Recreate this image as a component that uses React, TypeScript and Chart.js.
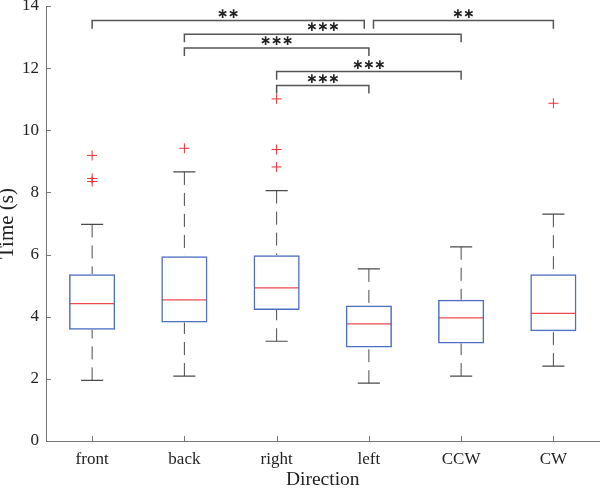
import React, { useEffect, useRef } from 'react';
import Chart from 'chart.js/auto';

const categories = ['front', 'back', 'right', 'left', 'CCW', 'CW'];
const q1 = [3.58, 3.81, 4.22, 3.01, 3.14, 3.53];
const medians = [4.42, 4.54, 4.93, 3.77, 3.96, 4.11];
const q3 = [5.37, 5.95, 5.98, 4.36, 4.55, 5.37];
const whiskerLow = [1.95, 2.09, 3.21, 1.86, 2.09, 2.41];
const whiskerHigh = [6.97, 8.66, 8.06, 5.54, 6.25, 7.3];
const outliers = [[9.19, 8.45, 8.35], [9.42], [11.01, 9.38, 8.82], [], [], [10.87]];
const yTicks = [0, 2, 4, 6, 8, 10, 12, 14];

const bracketFrom = [1, 4.05, 2, 2, 3, 3];
const bracketTo = [3.95, 6, 5, 4, 5, 4];
const bracketY = [13.53, 13.53, 13.09, 12.65, 11.89, 11.44];
const bracketLabels = ['∗∗', '∗∗', '∗∗∗', '∗∗∗', '∗∗∗', '∗∗∗'];

const SERIF = '"Liberation Serif", "Times New Roman", serif';
const MED_HALF = 0.245;
const CAP_HALF = 0.12;
const DROP = 0.26;

const annotPlugin = {
  id: 'annot',
  afterDatasetsDraw(chart: any) {
    const { ctx, chartArea } = chart;
    const x = chart.scales.x;
    const y = chart.scales.y;
    ctx.save();
    ctx.fillStyle = '#222';
    ctx.font = 'bold 14px "DejaVu Sans"';
    ctx.textAlign = 'center';
    ctx.textBaseline = 'middle';
    bracketLabels.forEach((lab, i) => {
      const cx = (x.getPixelForValue(bracketFrom[i]) + x.getPixelForValue(bracketTo[i])) / 2;
      const cy = y.getPixelForValue(bracketY[i]) - 6.5;
      const chars = Array.from(lab);
      chars.forEach((ch, k) => ctx.fillText(ch, cx + (k - (chars.length - 1) / 2) * 11, cy));
    });
    ctx.strokeStyle = '#777';
    ctx.lineWidth = 1;
    ctx.beginPath();
    yTicks.forEach((v) => {
      const py = Math.round(y.getPixelForValue(v)) + 0.5;
      ctx.moveTo(chartArea.left, py);
      ctx.lineTo(chartArea.left + 5, py);
    });
    categories.forEach((_, i) => {
      const px = Math.round(x.getPixelForValue(i + 1)) + 0.5;
      ctx.moveTo(px, chartArea.bottom);
      ctx.lineTo(px, chartArea.bottom - 5);
    });
    ctx.stroke();
    ctx.restore();
  },
};

export default function App() {
  const ref = useRef<HTMLCanvasElement>(null);
  useEffect(() => {
    document.body.style.margin = '0';
    const boxes = categories.map((_, i) => ({ x: i + 1, y: [q1[i], q3[i]] }));
    const medianPts: any[] = [];
    const whiskerPts: any[] = [];
    const capPts: any[] = [];
    categories.forEach((_, i) => {
      const c = i + 1;
      medianPts.push({ x: c - MED_HALF, y: medians[i] }, { x: c + MED_HALF, y: medians[i] }, { x: c, y: null });
      whiskerPts.push(
        { x: c, y: whiskerHigh[i] }, { x: c, y: q3[i] }, { x: c, y: null },
        { x: c, y: whiskerLow[i] }, { x: c, y: q1[i] }, { x: c, y: null }
      );
      capPts.push(
        { x: c - CAP_HALF, y: whiskerHigh[i] }, { x: c + CAP_HALF, y: whiskerHigh[i] }, { x: c, y: null },
        { x: c - CAP_HALF, y: whiskerLow[i] }, { x: c + CAP_HALF, y: whiskerLow[i] }, { x: c, y: null }
      );
    });
    const outlierPts: any[] = [];
    outliers.forEach((arr, i) => arr.forEach((v) => outlierPts.push({ x: i + 1, y: v })));
    const bracketPts: any[] = [];
    bracketY.forEach((h, i) => {
      bracketPts.push(
        { x: bracketFrom[i], y: h - DROP }, { x: bracketFrom[i], y: h },
        { x: bracketTo[i], y: h }, { x: bracketTo[i], y: h - DROP }, { x: bracketTo[i], y: null }
      );
    });

    const lineBase = { type: 'line', pointRadius: 0, pointHoverRadius: 0, tension: 0, spanGaps: false, fill: false };
    const chart = new Chart(ref.current as HTMLCanvasElement, {
      type: 'bar',
      data: {
        datasets: [
          {
            type: 'bar',
            data: boxes as any,
            backgroundColor: 'rgba(0,0,0,0)',
            borderColor: '#4d6ec2',
            borderWidth: 1.5,
            borderSkipped: false,
            barPercentage: 0.5,
            categoryPercentage: 1,
          } as any,
          { ...lineBase, data: whiskerPts, borderColor: '#4a4a4a', borderWidth: 1, borderDash: [13, 8] } as any,
          { ...lineBase, data: capPts, borderColor: '#4a4a4a', borderWidth: 1.2 } as any,
          { ...lineBase, data: medianPts, borderColor: '#f04a4f', borderWidth: 1.3 } as any,
          { ...lineBase, data: bracketPts, borderColor: '#555', borderWidth: 1.5 } as any,
          {
            type: 'scatter',
            data: outlierPts,
            pointStyle: 'cross',
            pointRadius: 5,
            pointHoverRadius: 5,
            borderColor: '#f03030',
            borderWidth: 1,
            showLine: false,
          } as any,
        ],
      },
      options: {
        animation: false,
        responsive: false,
        devicePixelRatio: 1,
        layout: { autoPadding: false, padding: { top: 6, right: 0.5, bottom: 0, left: 0 } },
        plugins: { legend: { display: false }, tooltip: { enabled: false } },
        events: [],
        scales: {
          x: {
            type: 'linear',
            min: 0.5,
            max: 6.5,
            offset: false,
            grid: { display: false, drawTicks: false },
            border: { display: true, color: '#777', width: 1 },
            ticks: {
              padding: 8,
              color: '#222',
              autoSkip: false,
              maxRotation: 0,
              font: { family: SERIF, size: 17 },
              callback: (v: any) => categories[Number(v) - 1] ?? '',
            },
            afterBuildTicks: (s: any) => {
              s.ticks = categories.map((_, i) => ({ value: i + 1 }));
            },
            afterFit: (s: any) => {
              s.height = 47;
              s.paddingLeft = 0;
              s.paddingRight = 0;
            },
            title: {
              display: true,
              text: 'Direction',
              color: '#222',
              padding: 0,
              font: { family: SERIF, size: 19.5, lineHeight: 0.88 },
            },
          },
          y: {
            type: 'linear',
            min: 0,
            max: 14,
            grid: { display: false, drawTicks: false },
            border: { display: true, color: '#777', width: 1 },
            ticks: {
              stepSize: 2,
              padding: 7,
              color: '#222',
              font: { family: SERIF, size: 17 },
            },
            afterBuildTicks: (s: any) => {
              s.ticks = yTicks.map((v) => ({ value: v }));
            },
            afterFit: (s: any) => {
              s.width = 46;
              s.paddingTop = 0;
              s.paddingBottom = 0;
            },
            title: {
              display: true,
              text: 'Time (s)',
              color: '#222',
              padding: 0,
              font: { family: SERIF, size: 21, lineHeight: 0.75 },
            },
          },
        },
      } as any,
      plugins: [annotPlugin],
    });
    return () => chart.destroy();
  }, []);
  return (
    <div style={{ position: 'absolute', left: 0, top: 0, width: 600, height: 488 }}>
      <canvas ref={ref} width={600} height={488} style={{ display: 'block', width: 600, height: 488 }} />
    </div>
  );
}
